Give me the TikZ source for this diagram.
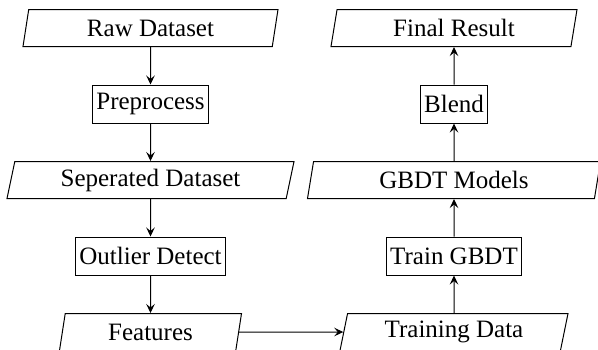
\documentclass[tikz,border=0pt]{standalone}
\usepackage{fontspec}
\setmainfont{Liberation Serif}
\usetikzlibrary{shapes.geometric, arrows.meta}
\begin{document}
\begin{tikzpicture}[x=0.4pt,y=-0.4pt,
  every node/.style={font=\fontsize{10}{12}\selectfont, line width=0.4pt},
  data/.style={draw, trapezium, trapezium left angle=71, trapezium right angle=109,
    trapezium stretches body, minimum height=14.8pt, inner xsep=1.4pt, inner ysep=0pt},
  proc/.style={draw, rectangle, minimum height=15.2pt, inner xsep=1.4pt, inner ysep=0pt},
  flow/.style={-{Stealth[length=3.6pt, width=3.4pt, inset=1.4pt]}, line width=0.4pt}]
  \useasboundingbox (0,0) rectangle (598,349);

  % left column: data preparation
  \node[data, minimum width=102pt]   (raw)  at (150.5,28)  {Raw Dataset};
  \node[proc]                        (pre)  at (150.5,104) {Preprocess};
  \node[data, minimum width=114.8pt] (sep)  at (150.5,180) {Seperated Dataset};
  \node[proc]                        (out)  at (150.5,256) {Outlier Detect};
  \node[data, minimum width=72.8pt]  (feat) at (150.5,332) {Features};

  % right column: training and blending
  \node[data, minimum width=91.2pt]  (tdat) at (454,332)   {Training Data};
  \node[proc]                        (tgb)  at (454,256)   {Train GBDT};
  \node[data, minimum width=117.2pt] (gbm)  at (454,180)   {GBDT Models};
  \node[proc]                        (bl)   at (454,104)   {Blend};
  \node[data, minimum width=98.4pt]  (fin)  at (454,28)    {Final Result};

  \draw[flow] (raw) -- (pre);
  \draw[flow] (pre) -- (sep);
  \draw[flow] (sep) -- (out);
  \draw[flow] (out) -- (feat);
  \draw[flow] (feat) -- (tdat);
  \draw[flow] (tdat) -- (tgb);
  \draw[flow] (tgb) -- (gbm);
  \draw[flow] (gbm) -- (bl);
  \draw[flow] (bl) -- (fin);
\end{tikzpicture}
\end{document}
